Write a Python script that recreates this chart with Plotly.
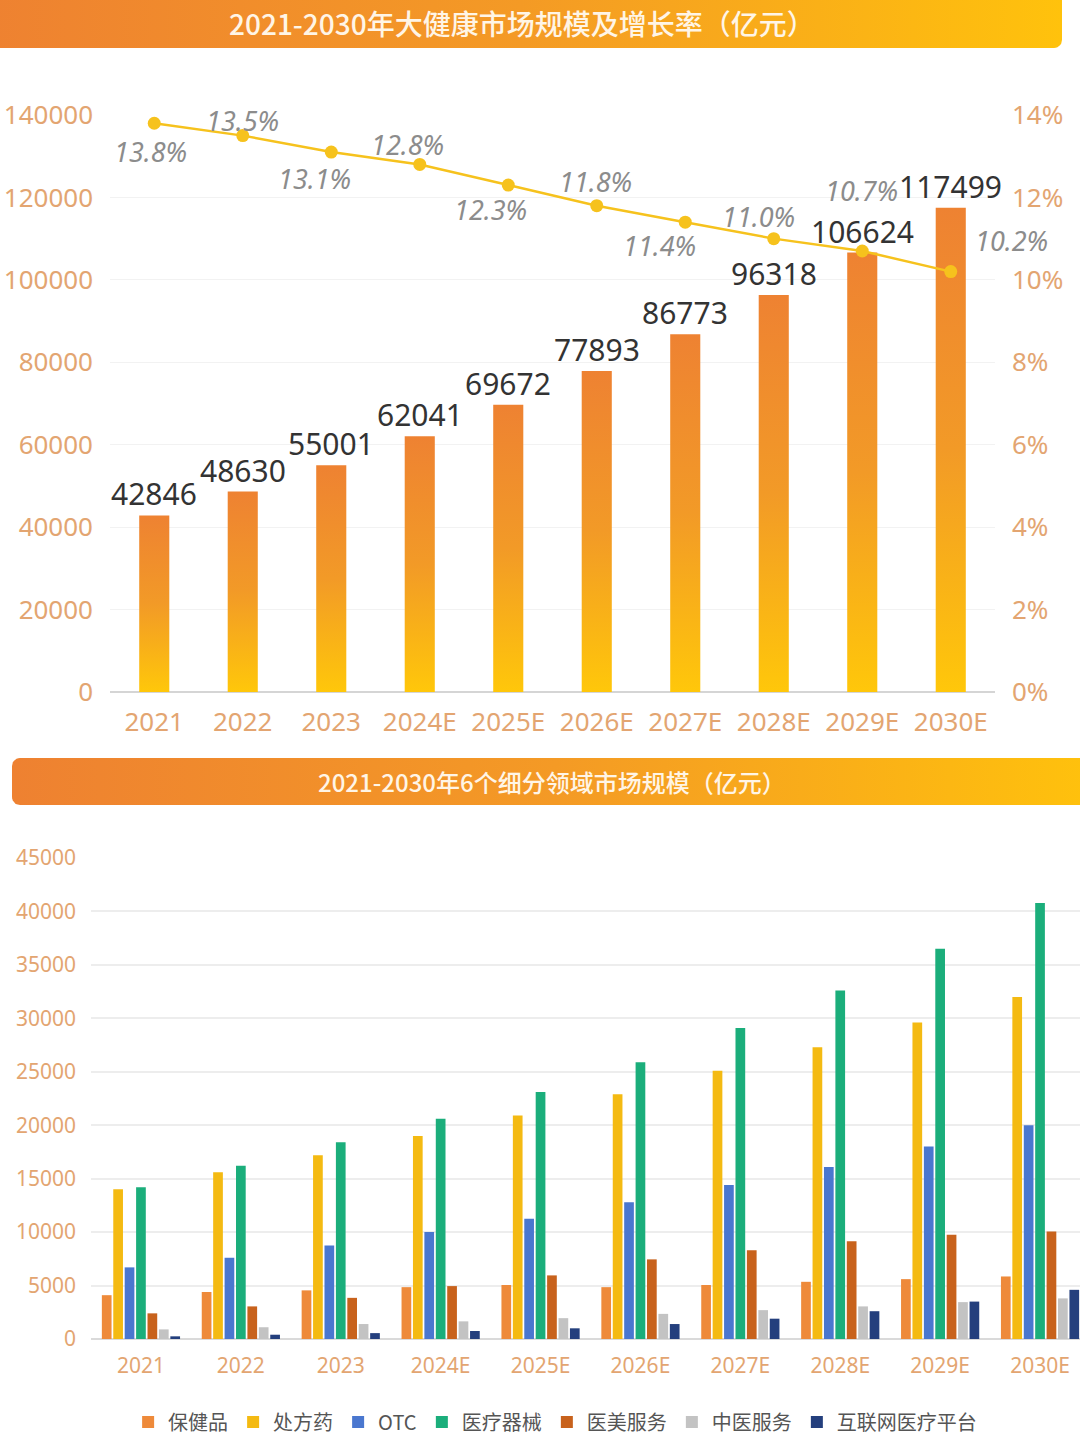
import numpy as np
import plotly.graph_objects as go

# ---------------- data ----------------
years = ["2021", "2022", "2023", "2024E", "2025E", "2026E", "2027E", "2028E", "2029E", "2030E"]
market_size = [42846, 48630, 55001, 62041, 69672, 77893, 86773, 96318, 106624, 117499]
growth_rate = [13.8, 13.5, 13.1, 12.8, 12.3, 11.8, 11.4, 11.0, 10.7, 10.2]

segments = ["保健品", "处方药", "OTC", "医疗器械", "医美服务", "中医服务", "互联网医疗平台"]
health_products = [4100, 4400, 4550, 4850, 5050, 4850, 5050, 5350, 5600, 5850]
prescription = [14000, 15600, 17200, 19000, 20900, 22900, 25100, 27300, 29600, 32000]
otc = [6700, 7600, 8750, 10000, 11250, 12800, 14400, 16100, 18000, 20000]
devices = [14200, 16200, 18400, 20600, 23100, 25900, 29100, 32600, 36500, 40800]
aesthetic = [2400, 3050, 3850, 4950, 5950, 7450, 8300, 9150, 9750, 10050]
tcm = [900, 1100, 1400, 1650, 1950, 2350, 2700, 3050, 3450, 3800]
internet = [250, 400, 550, 750, 1000, 1400, 1900, 2600, 3500, 4600]
segment_values = [health_products, prescription, otc, devices, aesthetic, tcm, internet]

title_top = "2021-2030年大健康市场规模及增长率（亿元）"
title_bottom = "2021-2030年6个细分领域市场规模（亿元）"

# ---------------- styles ----------------
segment_colors = ["#EE8A3A", "#F4BA12", "#4A77CF", "#1BAE7B", "#C8621C", "#C3C3C3", "#243F7D"]
# pixel offsets (dx, dy) of growth labels from their points
growth_label_offsets = [(-4, 28), (0, -15), (-17, 26), (-12, -20), (-18, 24),
                        (-1, -24), (-26, 23), (-15, -22), (-1, -61), (61, -31)]
W, H = 1080, 1440
tick_color = "#E3A571"
FONT = "Noto Sans, Noto Sans CJK SC, sans-serif"
CJK = "Noto Sans CJK SC, sans-serif"

fig = go.Figure()


def rounded_rect(x0, y0, x1, y1, r):
    pts_x, pts_y = [], []
    corners = [(x1 - r, y0 + r, -90, 0), (x1 - r, y1 - r, 0, 90),
               (x0 + r, y1 - r, 90, 180), (x0 + r, y0 + r, 180, 270)]
    for cx, cy, a0, a1 in corners:
        for a in np.linspace(np.radians(a0), np.radians(a1), 8):
            pts_x.append(cx + r * np.cos(a))
            pts_y.append(cy + r * np.sin(a))
    pts_x.append(pts_x[0]); pts_y.append(pts_y[0])
    return pts_x, pts_y


# banners (decoration layer in pixel coordinates)
for (x0, y0, x1, y1) in [(-20, -20, 1062, 48), (12, 758, 1100, 805)]:
    bx, by = rounded_rect(x0, y0, x1, y1, 8)
    fig.add_trace(go.Scatter(
        x=bx, y=by, fill="toself", mode="lines", line=dict(width=0),
        fillgradient=dict(type="horizontal", colorscale=[[0, "#EE8131"], [0.5, "#F49A25"], [1, "#FFC20C"]]),
        xaxis="x3", yaxis="y4", showlegend=False, hoverinfo="skip"))

# top chart bars with vertical gradient
hw = 0.17
for i, v in enumerate(market_size):
    fig.add_trace(go.Scatter(
        x=[i - hw, i - hw, i + hw, i + hw, i - hw], y=[0, v, v, 0, 0],
        fill="toself", mode="lines", line=dict(width=0),
        fillgradient=dict(type="vertical", colorscale=[[0, "#FFC70A"], [0.5, "#F29A27"], [1, "#EE8232"]]),
        xaxis="x", yaxis="y", showlegend=False, hoverinfo="skip"))

# growth line
fig.add_trace(go.Scatter(
    x=list(range(len(years))), y=growth_rate, mode="lines+markers",
    line=dict(color="#F6C21D", width=2.5), marker=dict(color="#F6C21D", size=13),
    xaxis="x", yaxis="y2", showlegend=False, hoverinfo="skip"))

# bottom grouped bars
for name, vals, col in zip(segments, segment_values, segment_colors):
    fig.add_trace(go.Bar(x=years, y=vals, name=name, marker=dict(color=col, line=dict(width=0)),
                         xaxis="x2", yaxis="y3"))

annotations = []
# value labels
for i, v in enumerate(market_size):
    annotations.append(dict(x=i, y=v, xref="x", yref="y", text=str(v), showarrow=False,
                            xanchor="center", yanchor="bottom", yshift=-1,
                            font=dict(family=FONT, size=30, color="#333333")))
# growth labels
for i, (g, (dx, dy)) in enumerate(zip(growth_rate, growth_label_offsets)):
    annotations.append(dict(x=i, y=g, xref="x", yref="y2", text=f"{g:.1f}%", showarrow=False,
                            xanchor="center", yanchor="middle", xshift=dx, yshift=-dy,
                            font=dict(family=FONT, size=27, color="#8C8C8C", style="italic")))
# banner titles
annotations.append(dict(x=522 / W, y=1 - 23 / H, xref="paper", yref="paper", text=title_top,
                        showarrow=False, xanchor="center", yanchor="middle",
                        font=dict(family=CJK, size=28, color="#FFF5E6", weight=500)))
annotations.append(dict(x=552 / W, y=1 - 781 / H, xref="paper", yref="paper", text=title_bottom,
                        showarrow=False, xanchor="center", yanchor="middle",
                        font=dict(family=CJK, size=24, color="#FFF5E6", weight=500)))

fig.update_layout(
    width=W, height=H, margin=dict(l=0, r=0, t=0, b=0, autoexpand=False),
    paper_bgcolor="white", plot_bgcolor="rgba(0,0,0,0)",
    barmode="group", bargap=0.2, bargroupgap=0.15,
    annotations=annotations,
    legend=dict(orientation="h", x=0.514, xanchor="center", y=1 - 1422 / H, yanchor="middle",
                font=dict(family=CJK, size=20, color="#555555"), itemwidth=30,
                traceorder="normal", bgcolor="rgba(0,0,0,0)"),
    xaxis=dict(domain=[110 / W, 995 / W], range=[-0.5, 9.5], anchor="y",
               tickvals=list(range(len(years))), ticktext=years, showgrid=False, zeroline=False,
               ticks="", ticklabelstandoff=12, tickfont=dict(family=FONT, size=26, color=tick_color),
               fixedrange=True),
    yaxis=dict(domain=[1 - 692 / H, 1 - 115 / H], range=[0, 140000], dtick=20000, anchor="x",
               tickformat="d",
               showgrid=True, gridcolor="#F2F2F2", gridwidth=1, zeroline=True,
               zerolinecolor="#D5D5D5", zerolinewidth=1.5, ticks="", ticklabelstandoff=16,
               tickfont=dict(family=FONT, size=26, color=tick_color), fixedrange=True),
    yaxis2=dict(overlaying="y", side="right", anchor="x", range=[0, 14], dtick=2, ticksuffix="%",
                showgrid=False, zeroline=False, ticks="", ticklabelstandoff=16,
                tickfont=dict(family=FONT, size=26, color=tick_color), fixedrange=True),
    xaxis2=dict(domain=[91 / W, 1.0], range=[-0.5, 9.4], anchor="y3", type="category",
                showgrid=False, zeroline=False, ticks="", ticklabelstandoff=12,
                tickfont=dict(family=FONT, size=21, color=tick_color), fixedrange=True),
    yaxis3=dict(domain=[1 - 1339 / H, 1 - 858 / H], range=[0, 45000], dtick=5000, anchor="x2",
                tickformat="d",
                showgrid=True, gridcolor="#EDEDED", gridwidth=1.5, zeroline=True,
                zerolinecolor="#DADADA", zerolinewidth=1.5, ticks="", ticklabelstandoff=14,
                tickfont=dict(family=FONT, size=21, color=tick_color), fixedrange=True),
    xaxis3=dict(domain=[0, 1], range=[0, W], anchor="y4", visible=False, fixedrange=True),
    yaxis4=dict(domain=[0, 1], range=[H, 0], anchor="x3", visible=False, fixedrange=True),
)

fig.write_html("out.html")
